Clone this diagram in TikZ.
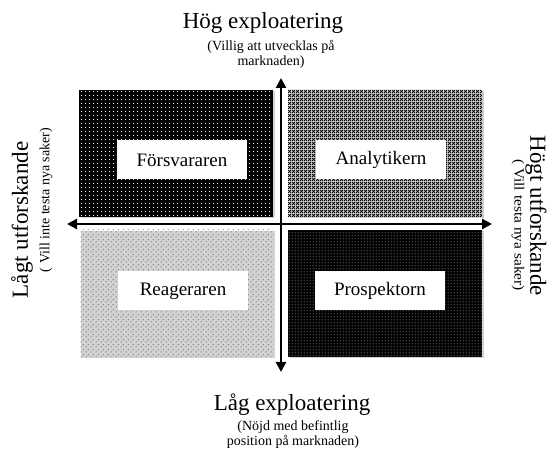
\documentclass[tikz,border=0pt]{standalone}
\usepackage{fontspec}
\setmainfont{Liberation Serif}
\usetikzlibrary{arrows.meta,patterns.meta,shadows}
\tikzdeclarepattern{name=tldots,type=uncolored,
  bounding box={(0pt,0pt) and (4pt,4pt)},tile size={(4pt,4pt)},
  code={\fill (2pt,2pt) circle (0.75pt);}}
\tikzdeclarepattern{name=brdots,type=uncolored,
  bounding box={(0pt,0pt) and (3pt,3pt)},tile size={(3pt,3pt)},
  code={\fill (1.5pt,1.5pt) circle (0.6pt);}}
\tikzdeclarepattern{name=bldots,type=uncolored,
  bounding box={(0pt,0pt) and (5pt,5pt)},tile size={(5pt,5pt)},
  code={\fill (1.25pt,1.25pt) circle (0.55pt); \fill (3.75pt,3.75pt) circle (0.55pt);}}
\tikzdeclarepattern{name=trcross,type=uncolored,
  bounding box={(0pt,0pt) and (4pt,4pt)},tile size={(4pt,4pt)},
  code={\draw[line width=0.9pt] (0pt,0pt) -- (4pt,4pt) (0pt,4pt) -- (4pt,0pt);}}
\tikzset{
  quad/.style={minimum width=194pt,minimum height=127pt,inner sep=0pt,
    drop shadow={shadow xshift=1.5pt,shadow yshift=-1.5pt,opacity=0.35}},
  lbl/.style={fill=white,minimum width=130pt,minimum height=39pt,inner sep=0pt,
    font=\fontsize{19}{22}\selectfont},
  big/.style={font=\fontsize{23}{26}\selectfont,inner sep=0pt},
  small/.style={font=\fontsize{14}{15}\selectfont,inner sep=0pt,align=center},
  axis/.style={line width=2.6pt,-{Triangle[length=10pt,width=10pt]}}
}
\begin{document}
\begin{tikzpicture}[x=1pt,y=1pt]
\useasboundingbox (0,0) rectangle (550,453);
% quadrants
\node[quad,preaction={fill=black},pattern=tldots,pattern color=white] (tl) at (176,299.5) {};
\node[quad,fill=white,pattern=trcross,pattern color=black] (tr) at (385,299.5) {};
\node[quad,fill=white,pattern=bldots,pattern color=black] (bl) at (176,159.5) {};
\node[quad,preaction={fill=black},pattern=brdots,pattern color=white] (br) at (385,159.5) {};
% labels
\node[lbl] (fors) at (182,293) {Försvararen};
\node[lbl] (anal) at (381,293) {Analytikern};
\node[lbl] (reag) at (183,162) {Reageraren};
\node[lbl] (prosp) at (380,162) {Prospektorn};
% axes
\coordinate (c) at (281,229);
\coordinate (top) at (281,375);
\coordinate (bot) at (281,81);
\coordinate (lft) at (67,229);
\coordinate (rgt) at (492,229);
\draw[axis] (c) -- (top);
\draw[axis] (c) -- (bot);
\draw[axis] (c) -- (lft);
\draw[axis] (c) -- (rgt);
% axis texts
\node[big] (hogexp) at (263,430) {Hög exploatering};
\node[small] (hogsub) at (271,398.5) {(Villig att utvecklas på\\marknaden)};
\node[big] (lagexp) at (292,48) {Låg exploatering};
\node[small] (lagsub) at (293,18) {(Nöjd med befintlig\\position på marknaden)};
\node[big,rotate=90] (lagut) at (22,233) {Lågt utforskande};
\node[small,rotate=90] (lagutsub) at (46,253) {( Vill inte testa nya saker)};
\node[big,rotate=-90] (hogut) at (536,237) {Högt utforskande};
\node[small,rotate=-90,xscale=1.1] (hogutsub) at (518,228) {( Vill testa nya saker)};
\end{tikzpicture}
\end{document}
